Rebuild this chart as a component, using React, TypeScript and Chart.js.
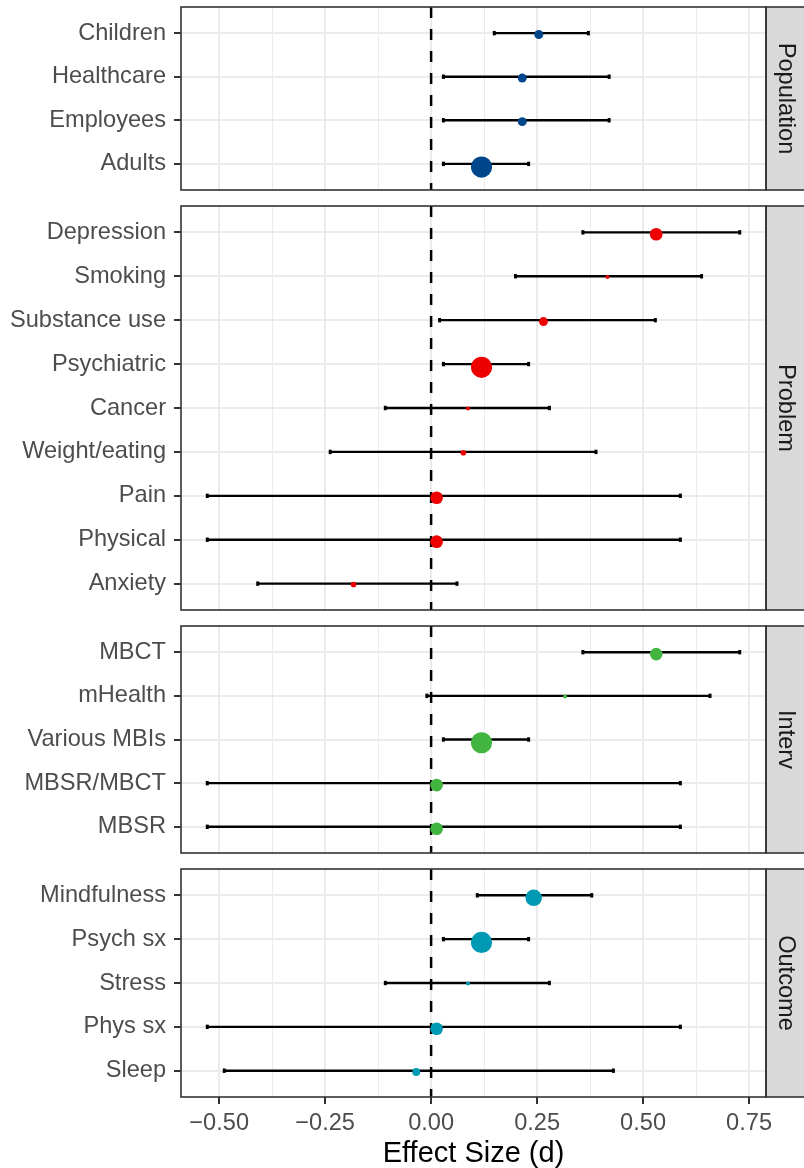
import React, { useEffect, useRef } from 'react';
import { Chart, registerables } from 'chart.js';

Chart.register(...registerables);

// ---------- data ----------
const populationLabels = ['Children', 'Healthcare', 'Employees', 'Adults'];
const populationEst = [0.254, 0.215, 0.215, 0.119];
const populationLow = [0.149, 0.029, 0.029, 0.029];
const populationHigh = [0.371, 0.42, 0.42, 0.23];
const populationK = [5, 5, 5, 28];

const problemLabels = ['Depression', 'Smoking', 'Substance use', 'Psychiatric', 'Cancer', 'Weight/eating', 'Pain', 'Physical', 'Anxiety'];
const problemEst = [0.531, 0.416, 0.265, 0.119, 0.087, 0.076, 0.013, 0.013, -0.183];
const problemLow = [0.358, 0.199, 0.02, 0.029, -0.108, -0.238, -0.528, -0.528, -0.409];
const problemHigh = [0.728, 0.638, 0.529, 0.23, 0.279, 0.389, 0.588, 0.588, 0.061];
const problemK = [10, 1, 5, 28, 1, 2, 10, 10, 2];

const intervLabels = ['MBCT', 'mHealth', 'Various MBIs', 'MBSR/MBCT', 'MBSR'];
const intervEst = [0.531, 0.316, 0.119, 0.013, 0.013];
const intervLow = [0.358, -0.01, 0.029, -0.528, -0.528];
const intervHigh = [0.728, 0.658, 0.23, 0.588, 0.588];
const intervK = [10, 1, 28, 10, 10];

const outcomeLabels = ['Mindfulness', 'Psych sx', 'Stress', 'Phys sx', 'Sleep'];
const outcomeEst = [0.242, 0.119, 0.087, 0.013, -0.035];
const outcomeLow = [0.109, 0.029, -0.108, -0.528, -0.488];
const outcomeHigh = [0.379, 0.23, 0.279, 0.588, 0.43];
const outcomeK = [17, 28, 1, 10, 4];

const xTickValues = [-0.5, -0.375, -0.25, -0.125, 0, 0.125, 0.25, 0.375, 0.5, 0.625, 0.75];
const xMajorTicks = [-0.5, -0.25, 0, 0.25, 0.5, 0.75];
const xMin = -0.59;
const xMax = 0.79;
const refLine = 0;

// ---------- style ----------
const FONT = "'Liberation Sans', Arial, Helvetica, sans-serif";
const W = 804;
const STRIP_W = 38;
const AXIS_W = 181;
const TICK_SIZE = 23.6;

type Panel = {
  strip: string; labels: string[]; est: number[]; low: number[]; high: number[]; k: number[];
  color: string; plotTop: number; plotBottom: number; bottom: boolean;
};

const panels: Panel[] = [
  { strip: 'Population', labels: populationLabels, est: populationEst, low: populationLow, high: populationHigh, k: populationK, color: '#00468B', plotTop: 7, plotBottom: 190, bottom: false },
  { strip: 'Problem', labels: problemLabels, est: problemEst, low: problemLow, high: problemHigh, k: problemK, color: '#ED0000', plotTop: 206, plotBottom: 610, bottom: false },
  { strip: 'Interv', labels: intervLabels, est: intervEst, low: intervLow, high: intervHigh, k: intervK, color: '#42B540', plotTop: 626, plotBottom: 853, bottom: false },
  { strip: 'Outcome', labels: outcomeLabels, est: outcomeEst, low: outcomeLow, high: outcomeHigh, k: outcomeK, color: '#0099B4', plotTop: 869, plotBottom: 1097, bottom: true },
];

const PAD = 8;
const XAXIS_H = 71;

function canvasGeom(p: Panel) {
  const top = p.plotTop - PAD;
  const height = p.bottom ? 1168 - top : p.plotBottom - p.plotTop + 2 * PAD;
  return { top, height };
}

const isMajor = (v: number) => xMajorTicks.some((m) => Math.abs(m - v) < 1e-9);
const fmt = (v: number) => (v < 0 ? '\u2212' + Math.abs(v).toFixed(2) : v.toFixed(2));
const radiusOf = (k: number) => 2 * Math.sqrt(k);

function makeConfig(p: Panel): any {
  const n = p.labels.length;
  const yMin = -0.6;
  const yMax = n - 0.4;
  const radii = p.k.map(radiusOf);

  const decor = {
    id: 'decor' + p.strip,
    afterDraw(chart: any) {
      const { ctx, chartArea } = chart;
      const { left, top, right, bottom } = chartArea;
      ctx.save();
      // strip
      ctx.fillStyle = '#D9D9D9';
      ctx.fillRect(right, top, STRIP_W + 4, bottom - top);
      ctx.strokeStyle = '#333333';
      ctx.lineWidth = 1.6;
      ctx.strokeRect(right, top, STRIP_W + 4, bottom - top);
      // panel border
      ctx.strokeRect(left, top, right - left, bottom - top);
      // strip text
      ctx.translate(right + 20, (top + bottom) / 2);
      ctx.rotate(Math.PI / 2);
      ctx.fillStyle = '#1A1A1A';
      ctx.font = `${TICK_SIZE}px ${FONT}`;
      ctx.textAlign = 'center';
      ctx.textBaseline = 'middle';
      ctx.fillText(p.strip, 0, 0);
      ctx.restore();
    },
  };

  const datasets: any[] = [];
  datasets.push({
    type: 'scatter',
    data: p.est.map((v, i) => ({ x: v, y: i + radii[i] * 0.007 })),
    pointRadius: radii,
    pointHoverRadius: radii,
    backgroundColor: p.color,
    borderWidth: 0,
    order: 0,
  });
  const caps: any[] = [];
  p.low.forEach((v, i) => caps.push({ x: v, y: i }));
  p.high.forEach((v, i) => caps.push({ x: v, y: i }));
  datasets.push({
    type: 'scatter',
    data: caps,
    pointStyle: 'line',
    rotation: 90,
    pointRadius: 2.2,
    borderColor: '#000000',
    borderWidth: 3,
    order: 1,
  });
  p.low.forEach((lo, i) => {
    datasets.push({
      type: 'line',
      data: [{ x: lo, y: i }, { x: p.high[i], y: i }],
      borderColor: '#000000',
      borderWidth: 2.4,
      pointRadius: 0,
      fill: false,
      order: 2,
    });
  });
  datasets.push({
    type: 'line',
    data: [{ x: refLine, y: yMin }, { x: refLine, y: yMax }],
    borderColor: '#000000',
    borderWidth: 2.5,
    borderDash: [11, 11],
    pointRadius: 0,
    fill: false,
    order: 3,
  });

  return {
    type: 'scatter',
    data: { datasets },
    plugins: [decor],
    options: {
      animation: false,
      responsive: false,
      events: [],
      layout: { autoPadding: false, padding: { left: 0, right: STRIP_W, top: PAD, bottom: p.bottom ? 0 : PAD } },
      plugins: { legend: { display: false }, tooltip: { enabled: false } },
      scales: {
        x: {
          type: 'linear',
          min: xMin,
          max: xMax,
          afterBuildTicks: (s: any) => { s.ticks = xTickValues.map((v) => ({ value: v })); },
          afterFit: (s: any) => { s.height = p.bottom ? XAXIS_H : 0; s.paddingLeft = 0; s.paddingRight = 0; },
          border: { display: false },
          grid: {
            color: '#EBEBEB',
            lineWidth: (c: any) => (c.tick && isMajor(c.tick.value) ? 2 : 1),
            drawTicks: p.bottom,
            tickLength: 7,
            tickWidth: 2,
            tickColor: (c: any) => (c.tick && isMajor(c.tick.value) ? '#333333' : 'rgba(0,0,0,0)'),
          },
          ticks: {
            display: p.bottom,
            autoSkip: false,
            maxRotation: 0,
            padding: 5,
            color: '#4D4D4D',
            font: { family: FONT, size: TICK_SIZE },
            callback: (v: any) => (isMajor(Number(v)) ? fmt(Number(v)) : ''),
          },
          title: {
            display: p.bottom,
            text: 'Effect Size (d)',
            color: '#000000',
            font: { family: FONT, size: 29, lineHeight: 1 },
            padding: { top: 0, bottom: 0 },
          },
        },
        y: {
          type: 'linear',
          reverse: true,
          min: yMin,
          max: yMax,
          afterBuildTicks: (s: any) => { s.ticks = p.labels.map((_, i) => ({ value: i })); },
          afterFit: (s: any) => { s.width = AXIS_W; s.paddingTop = 0; s.paddingBottom = 0; },
          border: { display: false },
          grid: {
            color: '#EBEBEB',
            lineWidth: 2,
            tickLength: 7,
            tickWidth: 2,
            tickColor: '#333333',
          },
          ticks: {
            autoSkip: false,
            padding: 8,
            color: '#4D4D4D',
            font: { family: FONT, size: TICK_SIZE },
            callback: (v: any) => p.labels[Number(v)] ?? '',
          },
        },
      },
    },
  };
}

export default function App() {
  const refs = useRef<(HTMLCanvasElement | null)[]>([]);

  useEffect(() => {
    const charts = panels.map((p, i) => {
      const c = refs.current[i]!;
      return new Chart(c, makeConfig(p));
    });
    return () => charts.forEach((ch) => ch.destroy());
  }, []);

  return (
    <div style={{ position: 'absolute', left: 0, top: 0, width: W, height: 1168, background: '#ffffff', overflow: 'hidden' }}>
      {panels.map((p, i) => {
        const g = canvasGeom(p);
        return (
          <canvas
            key={p.strip}
            ref={(el) => { refs.current[i] = el; }}
            width={W}
            height={g.height}
            style={{ position: 'absolute', left: 0, top: g.top, width: W, height: g.height, display: 'block' }}
          />
        );
      })}
    </div>
  );
}
